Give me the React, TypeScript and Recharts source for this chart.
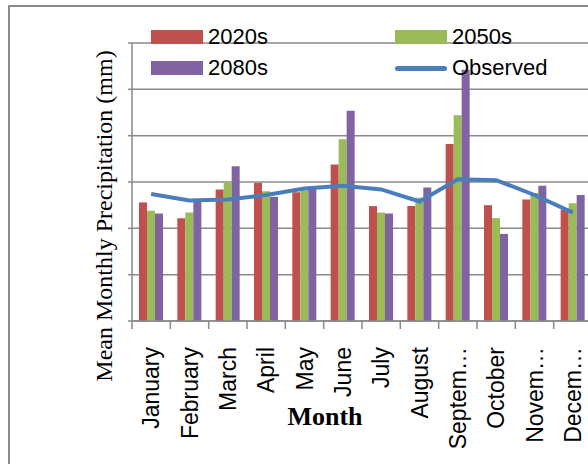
import React from 'react';
import { ComposedChart, Bar, Line, XAxis, YAxis, CartesianGrid, Legend } from 'recharts';

const months = ['January', 'February', 'March', 'April', 'May', 'June', 'July', 'August', 'Septem…', 'October', 'Novem…', 'Decem…'];
const s2020 = [128, 111, 142, 149, 139, 169, 124, 124, 191, 125, 131, 120];
const s2050 = [119, 117, 150, 140, 141, 196, 117, 133, 222, 111, 138, 127];
const s2080 = [116, 130, 167, 134, 144, 227, 116, 144, 271, 94, 146, 136];
const observed = [137, 130, 131, 136, 143, 146, 142, 129, 153, 152, 136, 117];
const yTicks = [0, 50, 100, 150, 200, 250, 300];

const data = months.map((m, i) => ({
  month: m,
  '2020s': s2020[i],
  '2050s': s2050[i],
  '2080s': s2080[i],
  Observed: observed[i],
}));

const CHART_W = 600;
const CHART_H = 464;
const M = { top: 43, right: 8, left: 92, bottom: 33 };
const Y_W = 40;
const PLOT_W = CHART_W - M.left - M.right - Y_W;
const BAND = PLOT_W / months.length;
const SANS = '"Liberation Sans", Arial, sans-serif';
const SERIF = '"Liberation Serif", "Times New Roman", serif';
const AXIS = '#8a8a8a';

function MonthTick({ x, y, payload }: any) {
  const left = x - BAND / 2;
  return (
    <g>
      <line x1={left} y1={y} x2={left} y2={y + 8} stroke={AXIS} strokeWidth={1.5} />
      <text
        x={x}
        y={y + 26}
        transform={`rotate(-90 ${x} ${y + 26})`}
        textAnchor="end"
        dominantBaseline="central"
        fontFamily={SANS}
        fontSize={23}
        fill="#000"
      >
        {payload.value}
      </text>
    </g>
  );
}

function LegendBox({ payload }: any) {
  return (
    <div style={{ display: 'grid', gridTemplateColumns: '244px 200px', rowGap: 9, fontFamily: SANS, fontSize: 22 }}>
      {(payload || []).map((p: any) => (
        <div key={p.value} style={{ display: 'flex', alignItems: 'center', height: 22 }}>
          {p.type === 'line' ? (
            <span style={{ width: 52, height: 5, borderRadius: 3, background: p.color, display: 'inline-block' }} />
          ) : (
            <span style={{ width: 52, height: 14, background: p.color, display: 'inline-block' }} />
          )}
          <span style={{ marginLeft: 5, color: '#000' }}>{p.value}</span>
        </div>
      ))}
    </div>
  );
}

export default function App() {
  return (
    <div style={{ position: 'absolute', left: 0, top: 0, width: 588, height: 464, overflow: 'hidden', background: '#fff' }}>
      <div style={{ position: 'absolute', left: 8, top: 5, width: 700, height: 600, border: `2px solid ${AXIS}` }} />
      <div style={{ position: 'absolute', left: 0, top: 0 }}>
        <ComposedChart width={CHART_W} height={CHART_H} data={data} margin={M} barGap={0}>
          <CartesianGrid vertical={false} stroke={AXIS} strokeWidth={1.5} />
          <XAxis
            dataKey="month"
            interval={0}
            height={110}
            tickLine={false}
            tickSize={0}
            tickMargin={0}
            axisLine={{ stroke: AXIS, strokeWidth: 1.5 }}
            tick={<MonthTick />}
            label={{
              content: () => (
                <text x={325} y={425} textAnchor="middle" fontFamily={SERIF} fontWeight="bold" fontSize={26} fill="#000">
                  Month
                </text>
              ),
            }}
          />
          <YAxis
            width={Y_W}
            domain={[0, 300]}
            ticks={yTicks}
            tickSize={4}
            tickFormatter={() => ''}
            tickLine={{ stroke: AXIS, strokeWidth: 1.5 }}
            axisLine={{ stroke: AXIS, strokeWidth: 1.5 }}
            label={{
              content: () => (
                <text
                  x={104}
                  y={216}
                  transform="rotate(-90 104 216)"
                  textAnchor="middle"
                  dominantBaseline="central"
                  fontFamily={SERIF}
                  fontSize={24}
                  fill="#000"
                >
                  Mean Monthly Precipitation (mm)
                </text>
              ),
            }}
          />
          <Legend
            content={<LegendBox />}
            wrapperStyle={{ position: 'absolute', left: 151, top: 26, width: 450, height: 0, overflow: 'visible' }}
          />
          <Bar dataKey="2020s" fill="#c0504d" barSize={8} isAnimationActive={false} legendType="rect" />
          <Bar dataKey="2050s" fill="#9bbb59" barSize={8} isAnimationActive={false} legendType="rect" />
          <Bar dataKey="2080s" fill="#8064a2" barSize={8} isAnimationActive={false} legendType="rect" />
          <Line
            dataKey="Observed"
            type="linear"
            stroke="#4a7ebb"
            strokeWidth={4}
            dot={false}
            activeDot={false}
            legendType="line"
            isAnimationActive={false}
          />
        </ComposedChart>
      </div>
    </div>
  );
}
